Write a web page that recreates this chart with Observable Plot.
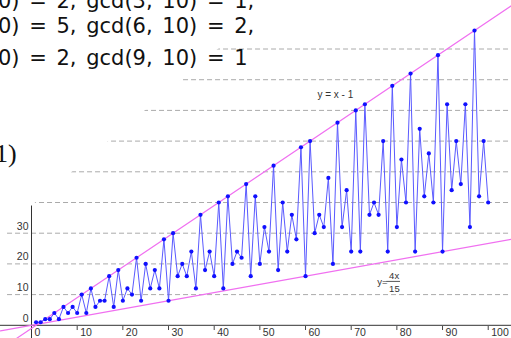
<!DOCTYPE html>
<html>
<head>
<meta charset="utf-8">
<script src="https://cdn.jsdelivr.net/npm/d3@7"></script>
<script src="https://cdn.jsdelivr.net/npm/@observablehq/plot@0.6"></script>
<style>
  html, body { margin: 0; padding: 0; background: #fff; }
  #chart { position: relative; width: 511px; height: 338px; overflow: hidden; }
  #err { position: absolute; left: 0; top: 100px; color: red; font: 12px sans-serif; }
</style>
</head>
<body>
<div id="chart"></div>
<div id="err"></div>
<script>
// Euler's totient phi(n), n = 1..100
const nValues = d3.range(1, 101);
const phiValues = [
  1, 1, 2, 2, 4, 2, 6, 4, 6, 4,
  10, 4, 12, 6, 8, 8, 16, 6, 18, 8,
  12, 10, 22, 8, 20, 12, 18, 12, 28, 8,
  30, 16, 20, 16, 24, 12, 36, 18, 24, 16,
  40, 12, 42, 20, 24, 22, 46, 16, 42, 20,
  32, 24, 52, 18, 40, 24, 36, 28, 58, 16,
  60, 30, 36, 32, 48, 20, 66, 32, 44, 24,
  70, 24, 72, 36, 40, 36, 60, 24, 78, 32,
  54, 40, 82, 24, 64, 42, 56, 40, 88, 24,
  72, 44, 60, 46, 72, 32, 96, 42, 60, 40
];
const xTicks = [0, 10, 20, 30, 40, 50, 60, 70, 80, 90, 100];
const yTicks = [0, 10, 20, 30];
const gridValues = [10, 20, 30, 40, 50, 60, 70, 80, 90];
const upperLabel = ["y = x - 1"];
const lowerLabel = ["y=", "4x", "15"];
const textLines = ["0) = 2, gcd(3, 10) = 1,", "0) = 5, gcd(6, 10) = 2,", "0) = 2, gcd(9, 10) = 1"];
const sideText = ["1)"];

try {
const data = nValues.map((n, i) => ({n, phi: phiValues[i]}));
const xDom = [-6.79, 105.1];
const yDom = [-4.3, 105.8];
const bounds = [{x: xDom[0]}, {x: xDom[1]}];
const upper = bounds.map(d => ({x: d.x, y: d.x - 1}));
const lower = bounds.map(d => ({x: d.x, y: 4 * d.x / 15}));

const font = "Liberation Sans, Arial, sans-serif";
const plot = Plot.plot({
  width: 511,
  height: 338,
  marginTop: 0, marginRight: 0, marginBottom: 0, marginLeft: 0,
  x: {domain: xDom, axis: null},
  y: {domain: yDom, axis: null},
  style: {fontFamily: font, background: "#fff"},
  marks: [
    Plot.ruleY(gridValues, {y: d => d, x1: -5.25, x2: xDom[1], stroke: "#aaaaaa", strokeWidth: 1, strokeDasharray: "5,3"}),
    Plot.ruleY([0], {y: d => d, x1: xDom[0], x2: xDom[1], stroke: "#333", strokeWidth: 1}),
    Plot.ruleX([0], {x: d => d, y1: yDom[0], y2: 45, stroke: "#333", strokeWidth: 1}),
    Plot.ruleX(xTicks.slice(1), {x: d => d, y1: -0.4, y2: -1.7, stroke: "#444", strokeWidth: 1}),
    Plot.text(xTicks, {x: d => d, y: 0, text: d => String(d), textAnchor: "start", dx: 3, dy: 7, fontSize: 10.5, fill: "#333"}),
    Plot.text(yTicks, {x: 0, y: d => d, text: d => String(d), textAnchor: "end", dx: -3, dy: -7, fontSize: 10.5, fill: "#333"}),
    Plot.line(upper, {x: "x", y: "y", stroke: "#f070f0", strokeWidth: 1.2}),
    Plot.line(lower, {x: "x", y: "y", stroke: "#f070f0", strokeWidth: 1.2}),
    Plot.line(data, {x: "n", y: "phi", stroke: "#5a5aff", strokeWidth: 1}),
    Plot.dot(data, {x: "n", y: "phi", r: 2.1, fill: "#1010ff", stroke: "none"}),
    Plot.text(upperLabel, {x: 62.6, y: 74.2, text: d => d, textAnchor: "start", fontSize: 10, fill: "#333", lineAnchor: "bottom"}),
    Plot.text([lowerLabel[0]], {x: 75.7, y: 13.2, text: d => d, textAnchor: "start", fontSize: 9.5, fill: "#333", lineAnchor: "bottom"}),
    Plot.text([lowerLabel[1]], {x: 78.3, y: 15.2, text: d => d, textAnchor: "start", fontSize: 9.5, fill: "#333", lineAnchor: "bottom"}),
    Plot.ruleY([14.3], {y: d => d, x1: 77.8, x2: 80.8, stroke: "#555", strokeWidth: 1}),
    Plot.text([lowerLabel[2]], {x: 78.3, y: 11.0, text: d => d, textAnchor: "start", fontSize: 9.5, fill: "#333", lineAnchor: "bottom"})
  ]
});
document.getElementById("chart").appendChild(plot);

// white overlay from the page region that covers the chart's upper left
const svg = d3.select(plot);
svg.append("polygon")
  .attr("points", "0,0 276,0 0,232")
  .attr("fill", "#fff");

const tg = svg.append("g")
  .attr("font-family", "DejaVu Sans, sans-serif")
  .attr("font-size", 21)
  .attr("text-anchor", "start")
  .attr("fill", "#111");
const baselines = [8, 33, 65];
textLines.forEach((t, i) => {
  tg.append("text").attr("x", -2).attr("y", baselines[i]).attr("word-spacing", 3).text(t);
});
svg.append("text")
  .attr("x", -5).attr("y", 162)
  .attr("text-anchor", "start")
  .attr("font-family", "Liberation Serif, serif")
  .attr("font-size", 26)
  .attr("fill", "#111")
  .text(sideText[0]);
} catch (e) {
  document.getElementById("err").textContent = String(e && e.stack || e);
}
</script>
</body>
</html>
